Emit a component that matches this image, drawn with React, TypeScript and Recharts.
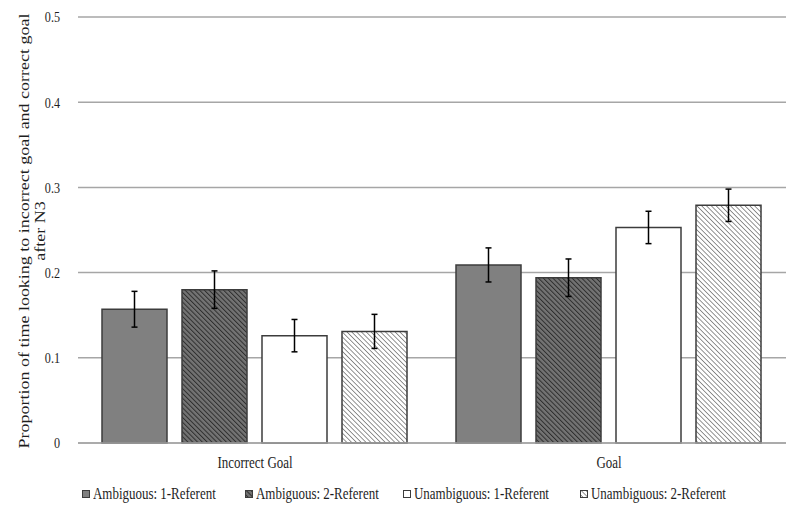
import React from 'react';
import { BarChart, Bar, XAxis, YAxis, CartesianGrid, ErrorBar, Legend } from 'recharts';

const categories = ['Incorrect Goal', 'Goal'];
const amb1 = [0.157, 0.209];
const amb1Err = [0.021, 0.02];
const amb2 = [0.18, 0.194];
const amb2Err = [0.022, 0.022];
const unamb1 = [0.126, 0.253];
const unamb1Err = [0.019, 0.019];
const unamb2 = [0.131, 0.279];
const unamb2Err = [0.02, 0.019];
const yTicks = [0, 0.1, 0.2, 0.3, 0.4, 0.5];

const seriesNames = [
  'Ambiguous: 1-Referent',
  'Ambiguous: 2-Referent',
  'Unambiguous: 1-Referent',
  'Unambiguous: 2-Referent',
];

const data = categories.map((c, i) => ({
  name: c,
  amb1: amb1[i],
  amb1Err: amb1Err[i],
  amb2: amb2[i],
  amb2Err: amb2Err[i],
  unamb1: unamb1[i],
  unamb1Err: unamb1Err[i],
  unamb2: unamb2[i],
  unamb2Err: unamb2Err[i],
}));

const FONT = '"Liberation Serif", "Times New Roman", serif';
const TEXT = '#1e1e1e';
const SQUEEZE = 0.81; // the source image is horizontally compressed
const fills = ['#808080', 'url(#hatchDark)', '#ffffff', 'url(#hatchLight)'];
const BAR_STROKE = '#3c3c3c';
const legendLeft = [82, 245, 403, 580];

const XTick = (props: any) => {
  const { x, y, payload } = props;
  return (
    <g transform={`translate(${x},${y}) scale(${SQUEEZE},1)`}>
      <text x={0} y={0} dy="0.71em" textAnchor="middle" fontFamily={FONT} fontSize={16} fill={TEXT}>
        {payload.value}
      </text>
    </g>
  );
};

const YTick = (props: any) => {
  const { x, y, payload } = props;
  return (
    <g transform={`translate(${x},${y}) scale(${SQUEEZE},1)`}>
      <text x={0} y={0} dy="0.355em" textAnchor="end" fontFamily={FONT} fontSize={15} fill={TEXT}>
        {payload.value}
      </text>
    </g>
  );
};

const YTitle = () => (
  <g fontFamily={FONT} fontSize={18} fill={TEXT}>
    <text x={0} y={0} textAnchor="middle" transform={`translate(29,231) scale(${SQUEEZE},1) rotate(-90)`}>
      Proportion of time looking to incorrect goal and correct goal
    </text>
    <text x={0} y={0} textAnchor="middle" transform={`translate(45,231) scale(${SQUEEZE},1) rotate(-90)`}>
      after N3
    </text>
  </g>
);

const LegendContent = () => (
  <div style={{ position: 'relative', width: 800, height: 18, fontFamily: FONT, fontSize: 16, color: TEXT, whiteSpace: 'nowrap' }}>
    {seriesNames.map((n, i) => (
      <div key={n} style={{ position: 'absolute', left: legendLeft[i], top: 0, display: 'flex', alignItems: 'center', height: 18 }}>
        <svg width={8} height={8} style={{ marginRight: 3 }}>
          <rect x={0.5} y={0.5} width={7} height={7} fill={fills[i]} stroke={BAR_STROKE} strokeWidth={1} />
        </svg>
        <span style={{ display: 'inline-block', transform: `scaleX(${SQUEEZE})`, transformOrigin: 'left center' }}>{n}</span>
      </div>
    ))}
  </div>
);

export default function App() {
  return (
    <div style={{ position: 'absolute', left: 0, top: 0, width: 800, height: 519, background: '#fff' }}>
      <BarChart
        width={800}
        height={519}
        data={data}
        margin={{ top: 17, right: 14, left: 0, bottom: 46 }}
        barCategoryGap={24}
        barGap={15}
      >
        <defs>
          <pattern id="hatchDark" width={3.4} height={3.4} patternUnits="userSpaceOnUse" patternTransform="rotate(-45)">
            <rect width={3.4} height={3.4} fill="#737373" />
            <line x1={0} y1={0} x2={0} y2={3.4} stroke="#2e2e2e" strokeWidth={2} />
          </pattern>
          <pattern id="hatchLight" width={3.4} height={3.4} patternUnits="userSpaceOnUse" patternTransform="rotate(-45)">
            <rect width={3.4} height={3.4} fill="#ffffff" />
            <line x1={0} y1={0} x2={0} y2={3.4} stroke="#5a5a5a" strokeWidth={1.3} />
          </pattern>
        </defs>
        <CartesianGrid vertical={false} stroke="#a6a6a6" strokeWidth={1.5} />
        <XAxis
          dataKey="name"
          axisLine={{ stroke: '#a6a6a6', strokeWidth: 1.5 }}
          tickLine={false}
          tickMargin={8}
          tick={<XTick />}
        />
        <YAxis
          width={78}
          domain={[0, 0.5]}
          ticks={yTicks}
          axisLine={false}
          tickLine={false}
          tickMargin={12}
          tick={<YTick />}
          label={<YTitle />}
        />
        <Legend
          layout="horizontal"
          verticalAlign="middle"
          align="center"
          content={<LegendContent />}
          wrapperStyle={{ top: 485, left: 0, width: 800 }}
        />
        <Bar dataKey="amb1" name={seriesNames[0]} fill={fills[0]} stroke={BAR_STROKE} strokeWidth={1.5} isAnimationActive={false}>
          <ErrorBar dataKey="amb1Err" width={3} stroke="#000" strokeWidth={1.5} />
        </Bar>
        <Bar dataKey="amb2" name={seriesNames[1]} fill={fills[1]} stroke={BAR_STROKE} strokeWidth={1.5} isAnimationActive={false}>
          <ErrorBar dataKey="amb2Err" width={3} stroke="#000" strokeWidth={1.5} />
        </Bar>
        <Bar dataKey="unamb1" name={seriesNames[2]} fill={fills[2]} stroke={BAR_STROKE} strokeWidth={1.5} isAnimationActive={false}>
          <ErrorBar dataKey="unamb1Err" width={3} stroke="#000" strokeWidth={1.5} />
        </Bar>
        <Bar dataKey="unamb2" name={seriesNames[3]} fill={fills[3]} stroke={BAR_STROKE} strokeWidth={1.5} isAnimationActive={false}>
          <ErrorBar dataKey="unamb2Err" width={3} stroke="#000" strokeWidth={1.5} />
        </Bar>
      </BarChart>
    </div>
  );
}
